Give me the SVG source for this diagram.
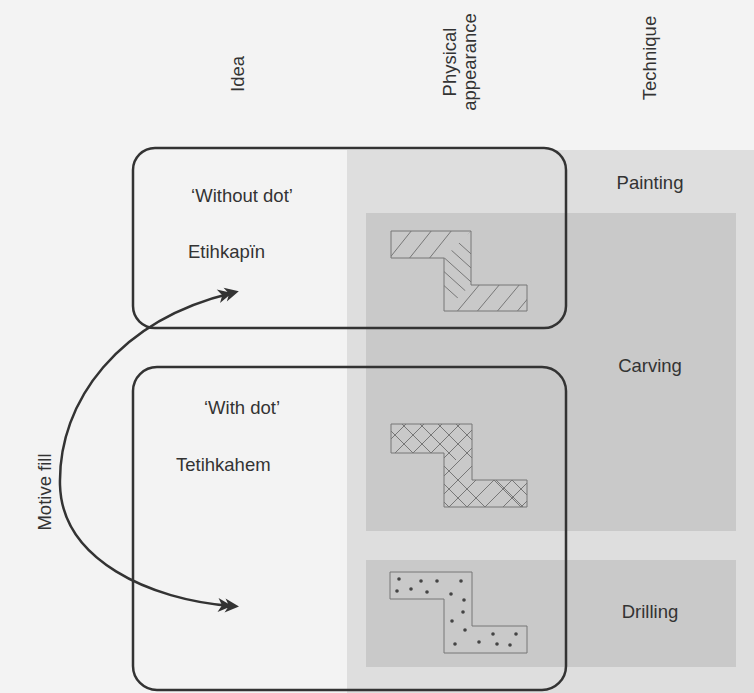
<svg xmlns="http://www.w3.org/2000/svg" width="754" height="693" viewBox="0 0 754 693">
<style>
text{font-family:"Liberation Sans",Arial,sans-serif;font-size:18.5px;fill:#333}
.box{fill:none;stroke:#333;stroke-width:2.5}
.tech{fill:#c9c9c9}
.zs{stroke:#777;stroke-width:1;fill:none}
.hl{stroke:#777;stroke-width:1}
.dot{fill:#444}
</style>
<defs>
<marker id="dbl" markerUnits="userSpaceOnUse" markerWidth="30" markerHeight="20" viewBox="-14 -8 30 16" refX="2" refY="0" orient="auto-start-reverse">
<path d="M-12,-7 L2,0 L-12,7 L-8,0 Z M-5,-7 L9,0 L-5,7 L-1,0 Z" fill="#333"/>
</marker>
<clipPath id="ztop"><path d="M391,231 H471 L444,258 H391 Z"/></clipPath>
<clipPath id="zmid"><path d="M471,231 V285 L444,311 V258 Z"/></clipPath>
<clipPath id="zbot"><path d="M471,285 H527 V311 H444 Z"/></clipPath>
<clipPath id="zc2"><path d="M391,424 H472 V480 H527 V507 H444 V453 H391 Z"/></clipPath>
</defs>
<rect width="754" height="693" fill="#f3f3f3"/>
<g id="panel"><rect x="347" y="150" width="407" height="543" fill="#dedede"/></g>
<g id="carving"><rect class="tech" x="366" y="213" width="370" height="318"/><text x="650" y="372" text-anchor="middle">Carving</text></g>
<g id="drilling"><rect class="tech" x="366" y="560" width="370" height="107"/><text x="650" y="618" text-anchor="middle">Drilling</text></g>
<g id="painting"><text x="650" y="189" text-anchor="middle">Painting</text></g>
<g id="headers">
<text transform="translate(244,74) rotate(-90)" text-anchor="middle">Idea</text>
<text transform="translate(456,62) rotate(-90)" text-anchor="middle">Physical</text>
<text transform="translate(476,62) rotate(-90)" text-anchor="middle">appearance</text>
<text transform="translate(656,58) rotate(-90)" text-anchor="middle">Technique</text>
<text transform="translate(51,492) rotate(-90)" text-anchor="middle">Motive fill</text>
</g>
<g id="shape-hatched">
<g clip-path="url(#ztop)">
<path class="hl" d="M380,270 L420,220 M400,270 L440,220 M420,270 L460,220 M440,270 L480,220"/>
</g>
<g clip-path="url(#zmid)">
<path class="hl" d="M440,226 L480,262 M440,240 L480,276 M440,254 L480,290 M440,268 L480,304 M440,282 L480,318"/>
</g>
<g clip-path="url(#zbot)">
<path class="hl" d="M430,320 L480,260 M450,320 L500,260 M470,320 L520,260 M490,320 L540,260 M510,320 L560,260"/>
</g>
<path class="zs" d="M391,231 H471 V285 H527 V311 H444 V258 H391 Z"/>
</g>
<g id="shape-cross">
<g clip-path="url(#zc2)">
<path class="hl" d="M370,460 L410,420 M388,460 L428,420 M406,460 L446,420 M424,460 L464,420 M442,460 L482,420 M440,480 L500,420 M440,498 L500,438 M440,516 L510,446 M458,516 L530,444 M476,516 L540,452 M494,516 L540,470 M512,516 L540,488"/>
<path class="hl" d="M380,420 L420,460 M398,420 L438,460 M416,420 L456,460 M434,420 L530,516 M452,420 L540,508 M470,420 L540,490 M440,462 L494,516 M440,480 L476,516 M440,498 L458,516 M488,472 L530,514"/>
</g>
<path class="zs" d="M391,424 H472 V480 H527 V507 H444 V453 H391 Z"/>
</g>
<g id="shape-dotted">
<path class="zs" d="M390,572 H472 V626 H527 V653 H444 V599 H390 Z"/>
<g class="dot">
<circle cx="399" cy="579" r="1.8"/><circle cx="421" cy="581" r="1.8"/><circle cx="437" cy="581" r="1.8"/><circle cx="461" cy="581" r="1.8"/>
<circle cx="397" cy="591" r="1.8"/><circle cx="411" cy="589" r="1.8"/><circle cx="427" cy="592" r="1.8"/><circle cx="451" cy="594" r="1.8"/>
<circle cx="464" cy="600" r="1.8"/><circle cx="463" cy="612" r="1.8"/><circle cx="452" cy="621" r="1.8"/><circle cx="465" cy="630" r="1.8"/>
<circle cx="493" cy="634" r="1.8"/><circle cx="516" cy="634" r="1.8"/><circle cx="455" cy="644" r="1.8"/><circle cx="479" cy="642" r="1.8"/>
<circle cx="497" cy="644" r="1.8"/><circle cx="510" cy="645" r="1.8"/>
</g>
</g>
<g id="without-dot">
<rect class="box" x="133" y="148" width="433" height="180" rx="22"/>
<text x="242" y="202" text-anchor="middle">‘Without dot’</text>
<text x="188" y="258">Etihkapïn</text>
</g>
<g id="with-dot">
<rect class="box" x="133" y="367" width="433" height="323" rx="24"/>
<text x="242" y="414" text-anchor="middle">‘With dot’</text>
<text x="176" y="471">Tetihkahem</text>
</g>
<g id="connectors">
<path d="M232,293 C120,320 58,400 60,485 C62,560 150,600 232,606" fill="none" stroke="#333" stroke-width="2.5" marker-start="url(#dbl)" marker-end="url(#dbl)"/>
</g>
</svg>
